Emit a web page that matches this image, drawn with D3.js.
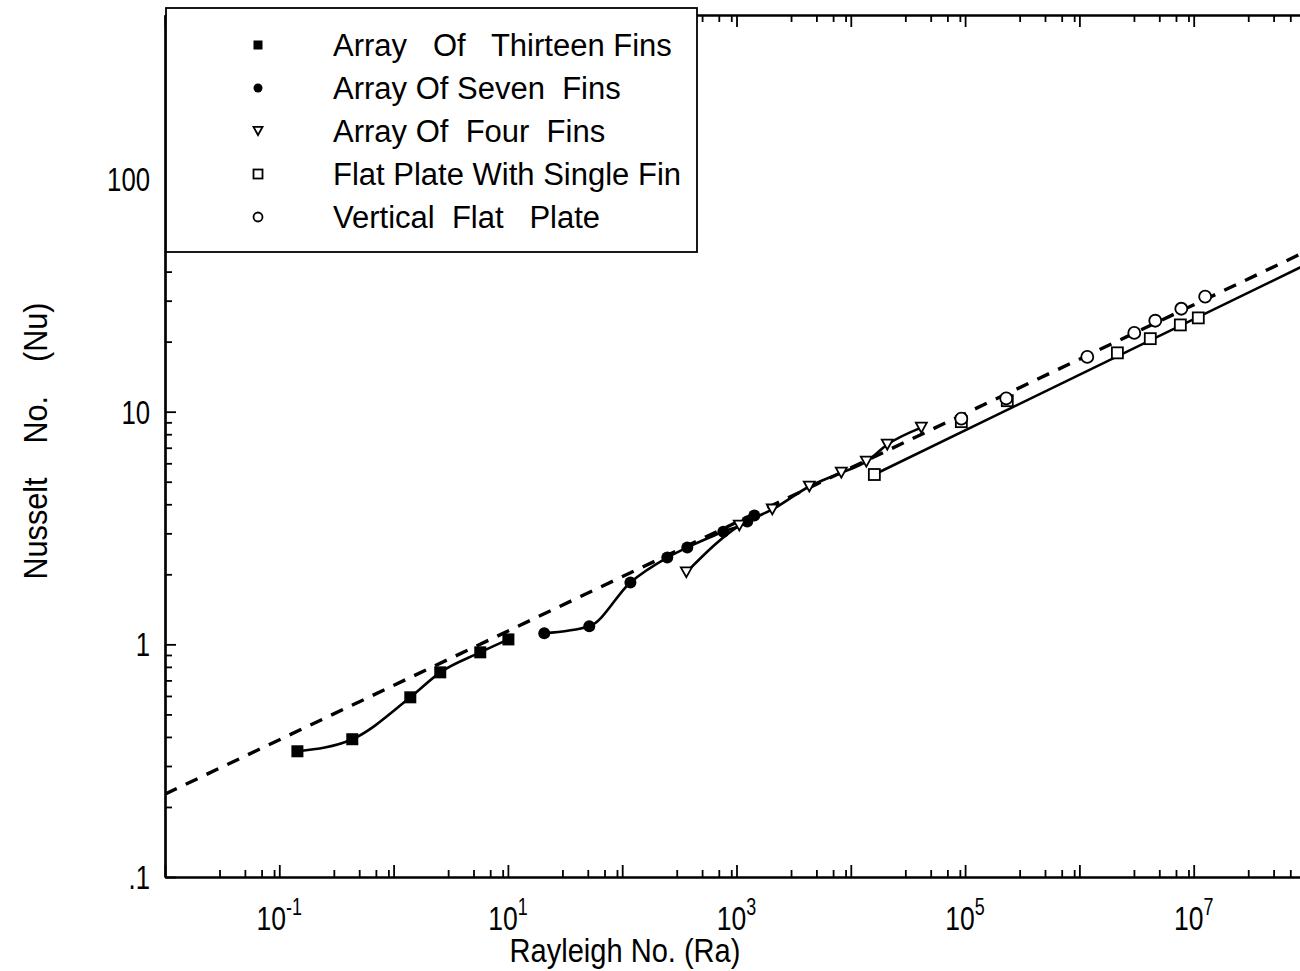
<!DOCTYPE html>
<html>
<head>
<meta charset="utf-8">
<script src="https://cdn.jsdelivr.net/npm/d3@7"></script>
<style>
body { margin: 0; background: #fff; }
svg { display: block; }
text { font-family: "Liberation Sans", Arial, sans-serif; fill: #000; white-space: pre; }
</style>
</head>
<body>
<svg id="chart" width="1300" height="971"></svg>
<script>
// values (Ra, Nu)
var thirteenRa = [0.144, 0.435, 1.40, 2.56, 5.73, 10.1];
var thirteenNu = [0.347, 0.391, 0.592, 0.758, 0.924, 1.05];

var sevenRa = [20.8, 51.5, 118, 248, 371, 767, 1242, 1432];
var sevenNu = [1.115, 1.195, 1.845, 2.36, 2.61, 3.05, 3.37, 3.58];

var fourRa = [364, 1058, 2057, 4335, 8260, 13670, 20850, 41400];
var fourNu = [2.04, 3.24, 3.80, 4.77, 5.47, 6.10, 7.22, 8.54];

var singleFinRa = [16070, 92700, 233900, 2.15e6, 4.17e6, 7.64e6, 1.097e7];
var singleFinNu = [5.37, 9.06, 11.15, 17.9, 20.6, 23.6, 25.3];

var plateRa = [92700, 229000, 1.172e6, 3.02e6, 4.61e6, 7.79e6, 1.26e7];
var plateNu = [9.33, 11.4, 17.2, 21.8, 24.6, 27.7, 31.2];

// correlation lines (end points)
var dashedRa = [1e-2, 1e8];
var dashedNu = [0.227, 49.3];
var solidRa = [16070, 1e8];
var solidNu = [5.37, 43.3];

var legendNames = ["Array   Of   Thirteen Fins", "Array Of Seven  Fins", "Array Of  Four  Fins",
                   "Flat Plate With Single Fin", "Vertical  Flat   Plate"];
var legendMarks = ["fsquare", "fcircle", "triangle", "osquare", "ocircle"];

var xLabelExp = ["-1", "1", "3", "5", "7"];
var yLabels = [".1", "1", "10", "100"];
var yLabelVals = [0.1, 1, 10, 100];

var svg = d3.select("#chart");
var plotL = 165, plotR = 1300, plotT = 15, plotB = 877;

var x = d3.scaleLog().domain([1e-2, 1e8]).range([165, 1308]);
var y = d3.scaleLog().domain([0.1, Math.pow(10, 2.705)]).range([plotB, plotT]);

var pairs = function(a, b) { return a.map(function(v, i) { return [v, b[i]]; }); };

svg.append("clipPath").attr("id", "plotclip")
    .append("rect").attr("x", plotL).attr("y", plotT - 5).attr("width", plotR - plotL).attr("height", plotB - plotT + 5);

// ticks
var xMajor = d3.range(-2, 9).map(function(e) { return Math.pow(10, e); });
var xMinor = [];
d3.range(-2, 8).forEach(function(e) {
    [3, 5, 7, 9].forEach(function(m) { xMinor.push(m * Math.pow(10, e)); });
});
var yMinor = [];
d3.range(-1, 3).forEach(function(e) {
    d3.range(2, 10).forEach(function(m) {
        var v = m * Math.pow(10, e);
        if (v < y.domain()[1]) yMinor.push(v);
    });
});

function tickAxis(axis, vals, size) {
    return axis.tickValues(vals).tickSizeInner(size).tickSizeOuter(0).tickFormat("");
}

var axes = svg.append("g").attr("class", "axes");
axes.append("g").attr("transform", "translate(0," + plotB + ")")
    .call(tickAxis(d3.axisBottom(x), xMajor, -12));
axes.append("g").attr("transform", "translate(0," + plotB + ")")
    .call(tickAxis(d3.axisBottom(x), xMinor, -7));
axes.append("g").attr("transform", "translate(0," + plotT + ")")
    .call(tickAxis(d3.axisTop(x), xMajor, -12));
axes.append("g").attr("transform", "translate(0," + plotT + ")")
    .call(tickAxis(d3.axisTop(x), xMinor, -7));
axes.append("g").attr("transform", "translate(" + plotL + ",0)")
    .call(tickAxis(d3.axisLeft(y), yLabelVals, -11));
axes.append("g").attr("transform", "translate(" + plotL + ",0)")
    .call(tickAxis(d3.axisLeft(y), yMinor, -7));
axes.selectAll("path.domain").attr("stroke", "#000").attr("stroke-width", 2.2);
axes.selectAll(".tick line").attr("stroke", "#000").attr("stroke-width", 1.8);

// tick labels
function squeezed(px, py, size, sx, anchor) {
    return svg.append("text")
        .attr("transform", "translate(" + px + "," + py + ") scale(" + sx + ",1)")
        .attr("text-anchor", anchor)
        .style("font-size", size + "px");
}

xLabelExp.forEach(function(e) {
    var t = squeezed(x(Math.pow(10, +e)), 930, 34, 0.78, "middle");
    t.append("tspan").text("10");
    t.append("tspan").attr("dy", -15).style("font-size", "23px").text(e);
});
yLabels.forEach(function(s, i) {
    squeezed(150, y(yLabelVals[i]) + 12, 33, 0.78, "end").text(s);
});

// axis titles
squeezed(625, 962, 33, 0.88, "middle").text("Rayleigh No. (Ra)");
svg.append("text")
    .attr("transform", "translate(47,441) rotate(-90) scale(0.9,1)")
    .attr("text-anchor", "middle")
    .style("font-size", "34px")
    .text("Nusselt    No.    (Nu)");

// data
var plot = svg.append("g").attr("clip-path", "url(#plotclip)");
var line = d3.line().x(function(d) { return x(d[0]); }).y(function(d) { return y(d[1]); });

plot.append("path").datum(pairs(dashedRa, dashedNu))
    .attr("d", line).attr("fill", "none").attr("stroke", "#000")
    .attr("stroke-width", 3.4).attr("stroke-dasharray", "13,10");
plot.append("path").datum(pairs(solidRa, solidNu))
    .attr("d", line).attr("fill", "none").attr("stroke", "#000").attr("stroke-width", 2.6);

var curvy = d3.line().curve(d3.curveMonotoneX)
    .x(function(d) { return x(d[0]); }).y(function(d) { return y(d[1]); });
[[thirteenRa, thirteenNu], [sevenRa, sevenNu], [fourRa, fourNu]].forEach(function(s) {
    plot.append("path").datum(pairs(s[0], s[1]))
        .attr("d", curvy).attr("fill", "none").attr("stroke", "#000").attr("stroke-width", 2.6);
});

function marker(g, kind, cx, cy, s) {
    if (kind === "fsquare") {
        g.append("rect").attr("x", cx - s / 2).attr("y", cy - s / 2).attr("width", s).attr("height", s).attr("fill", "#000");
    } else if (kind === "osquare") {
        g.append("rect").attr("x", cx - s / 2).attr("y", cy - s / 2).attr("width", s).attr("height", s)
            .attr("fill", "#fff").attr("stroke", "#000").attr("stroke-width", 1.8);
    } else if (kind === "fcircle") {
        g.append("circle").attr("cx", cx).attr("cy", cy).attr("r", s / 2).attr("fill", "#000");
    } else if (kind === "ocircle") {
        g.append("circle").attr("cx", cx).attr("cy", cy).attr("r", s / 2)
            .attr("fill", "#fff").attr("stroke", "#000").attr("stroke-width", 1.8);
    } else if (kind === "triangle") {
        var h = s * 0.9;
        g.append("path").attr("d", "M" + (cx - s / 2) + "," + (cy - h / 2) + "L" + (cx + s / 2) + "," + (cy - h / 2) + "L" + cx + "," + (cy + h / 2) + "Z")
            .attr("fill", "#fff").attr("stroke", "#000").attr("stroke-width", 1.8);
    }
}

var series = [
    [thirteenRa, thirteenNu, "fsquare", 12],
    [sevenRa, sevenNu, "fcircle", 12],
    [fourRa, fourNu, "triangle", 11],
    [singleFinRa, singleFinNu, "osquare", 11],
    [plateRa, plateNu, "ocircle", 12]
];
series.forEach(function(s) {
    s[0].forEach(function(ra, i) { marker(plot, s[2], x(ra), y(s[1][i]), s[3]); });
});

// legend
var lg = svg.append("g");
lg.append("rect").attr("x", 166).attr("y", 8).attr("width", 531).attr("height", 244)
    .attr("fill", "#fff").attr("stroke", "#000").attr("stroke-width", 1.8);
legendNames.forEach(function(name, i) {
    var cy = 45 + i * 43;
    marker(lg, legendMarks[i], 258, cy, 9);
    lg.append("text").attr("x", 333).attr("y", cy + 11).style("font-size", "31px").text(name);
});
</script>
</body>
</html>
